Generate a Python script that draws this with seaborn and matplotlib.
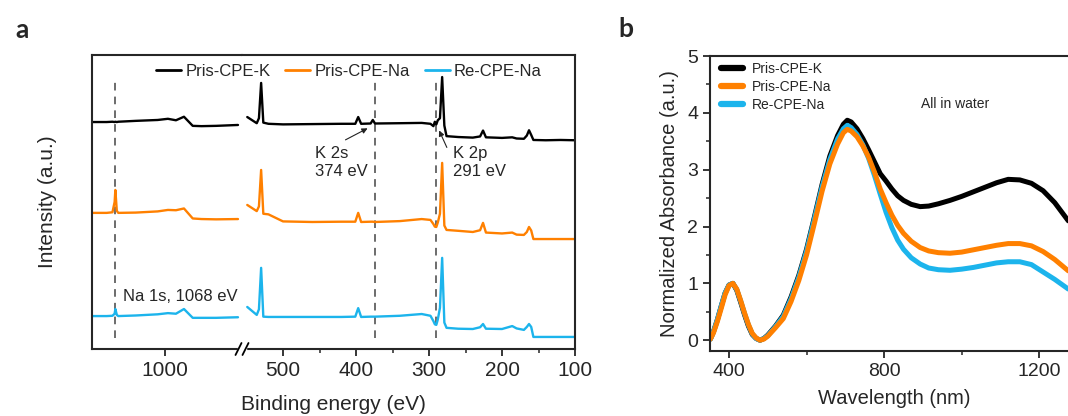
import numpy as np
import pandas as pd
import matplotlib.pyplot as plt
import seaborn as sns
from matplotlib.lines import Line2D
from matplotlib.patches import Rectangle

# ------------------------------------------
# Style
# ------------------------------------------
sns.set_style("ticks")
plt.rcParams["font.family"] = ["Liberation Sans", "DejaVu Sans"]

samples = ["Pris-CPE-K", "Pris-CPE-Na", "Re-CPE-Na"]
colors = ["#000000", "#FF8000", "#1CB4EC"]

# ------------------------------------------
# (a) XPS survey, offset traces (a.u.)
# ------------------------------------------
# high binding energy window
xps_hi_energy = [1100, 1080, 1072, 1069, 1068, 1066, 1064, 1040, 1010, 996, 985, 974, 962, 950, 930, 900]
xps_hi_k = [77.2, 77.2, 77.3, 77.2, 77.3, 77.2, 77.3, 77.6, 77.9, 78.3, 77.8, 79.0, 75.9, 75.8, 75.9, 76.2]
xps_hi_na = [46.3, 46.3, 46.5, 50.0, 54.1, 47.0, 46.3, 46.4, 46.8, 47.3, 47.2, 47.8, 44.4, 44.2, 44.1, 44.2]
xps_hi_re = [11.2, 11.2, 11.3, 12.0, 13.6, 11.6, 11.2, 11.4, 11.8, 12.2, 12.0, 13.6, 10.6, 10.6, 10.6, 10.8]

# low binding energy window
xps_lo_energy = [549, 536, 533, 530, 527, 520, 500, 460, 420, 401, 397, 393, 380, 377, 374, 340, 310,
                 298, 294, 292, 290, 288, 285, 282, 279, 276, 260, 240, 230, 226, 222, 200, 186, 180,
                 170, 166, 163, 160, 157, 140, 120, 100]
xps_lo_k = [78.9, 76.8, 78.5, 90.5, 77.0, 76.6, 76.4, 76.5, 76.6, 76.6, 78.9, 76.6, 76.7, 77.9, 76.7, 76.8, 76.9,
            76.6, 75.8, 77.3, 76.4, 77.8, 78.5, 92.5, 76.0, 72.4, 72.1, 71.9, 72.3, 74.3, 72.0, 71.8, 72.0, 71.6,
            71.5, 72.6, 74.4, 72.8, 71.1, 71.0, 71.1, 71.0]
xps_lo_na = [49.0, 46.9, 48.5, 60.9, 46.0, 45.8, 43.4, 43.2, 43.3, 43.3, 46.3, 43.2, 43.3, 43.3, 43.2, 43.5, 44.2,
             43.9, 42.5, 41.6, 41.5, 43.0, 46.0, 63.3, 42.0, 40.5, 40.2, 39.8, 40.4, 42.9, 39.6, 39.3, 39.6, 38.9,
             38.8, 39.8, 41.5, 40.3, 37.4, 37.4, 37.4, 37.4]
xps_lo_re = [14.3, 11.6, 13.5, 27.6, 11.0, 10.9, 10.9, 10.9, 10.9, 11.0, 13.9, 10.9, 11.0, 11.0, 11.0, 11.3, 11.9,
             11.3, 9.5, 8.4, 8.2, 10.0, 14.0, 31.0, 9.0, 7.2, 6.9, 6.8, 7.4, 8.5, 6.9, 6.8, 7.8, 7.0,
             6.5, 7.5, 8.5, 7.5, 4.1, 4.1, 4.1, 4.1]

marker_lines = [1068, 374, 291]

# ------------------------------------------
# (b) UV-vis-NIR absorbance
# ------------------------------------------
wavelength = [352, 360, 370, 380, 390, 400, 410, 420, 430, 440, 450, 460, 470, 480, 490, 500, 520, 540,
              560, 580, 600, 620, 640, 660, 680, 695, 705, 715, 730, 745, 760, 775, 790, 805, 820, 835,
              850, 870, 893, 915, 940, 970, 1000, 1030, 1060, 1090, 1120, 1150, 1180, 1210, 1240, 1275]
abs_k = [0.02, 0.15, 0.36, 0.60, 0.83, 0.97, 1.00, 0.88, 0.67, 0.45, 0.25, 0.10, 0.03, 0.00, 0.03, 0.09, 0.25, 0.44,
         0.76, 1.14, 1.60, 2.16, 2.74, 3.24, 3.60, 3.80, 3.87, 3.84, 3.72, 3.55, 3.35, 3.14, 2.93, 2.80, 2.66, 2.54,
         2.46, 2.39, 2.35, 2.36, 2.40, 2.46, 2.53, 2.61, 2.69, 2.77, 2.83, 2.82, 2.76, 2.63, 2.42, 2.10]
abs_na = [0.02, 0.13, 0.33, 0.56, 0.80, 0.96, 1.00, 0.90, 0.70, 0.48, 0.28, 0.12, 0.04, 0.00, 0.02, 0.07, 0.22, 0.38,
          0.68, 1.05, 1.50, 2.05, 2.62, 3.10, 3.45, 3.65, 3.71, 3.68, 3.58, 3.42, 3.22, 2.96, 2.66, 2.42, 2.20, 2.02,
          1.88, 1.74, 1.63, 1.57, 1.54, 1.53, 1.55, 1.59, 1.63, 1.67, 1.70, 1.70, 1.66, 1.56, 1.42, 1.22]
abs_re = [0.02, 0.15, 0.36, 0.60, 0.83, 0.97, 1.00, 0.89, 0.69, 0.47, 0.27, 0.11, 0.03, 0.00, 0.03, 0.08, 0.24, 0.42,
          0.73, 1.11, 1.57, 2.13, 2.70, 3.18, 3.54, 3.72, 3.78, 3.74, 3.62, 3.44, 3.20, 2.90, 2.57, 2.25, 1.98, 1.76,
          1.60, 1.45, 1.34, 1.27, 1.24, 1.23, 1.25, 1.28, 1.32, 1.36, 1.38, 1.38, 1.33, 1.20, 1.07, 0.90]


def long_df(x, series, xname, yname):
    frames = []
    for name, vals in zip(samples, series):
        frames.append(pd.DataFrame({xname: x, yname: vals, "sample": name}))
    return pd.concat(frames, ignore_index=True)


xps_hi = long_df(xps_hi_energy, [xps_hi_k, xps_hi_na, xps_hi_re], "energy", "intensity")
xps_lo = long_df(xps_lo_energy, [xps_lo_k, xps_lo_na, xps_lo_re], "energy", "intensity")
uv = long_df(wavelength, [abs_k, abs_na, abs_re], "wavelength", "absorbance")
pal = dict(zip(samples, colors))

# ------------------------------------------
# Figure layout (pixel boxes)
# ------------------------------------------
W, H = 1068, 416
fig = plt.figure(figsize=(W / 100, H / 100), dpi=100)


def box(l, t, r, b):
    return [l / W, 1 - b / H, (r - l) / W, (b - t) / H]


ax_hi = fig.add_axes(box(92, 55, 242, 349))
ax_lo = fig.add_axes(box(242, 55, 575, 349))
ax_b = fig.add_axes(box(710, 56, 1078, 351))

# ------------------------------------------
# Panel a
# ------------------------------------------
for ax, d in [(ax_hi, xps_hi), (ax_lo, xps_lo)]:
    sns.lineplot(data=d, x="energy", y="intensity", hue="sample", palette=pal,
                 estimator=None, sort=False, legend=False, lw=1.7, ax=ax)
    ax.set_ylim(0, 100)
    ax.set_xlabel("")
    ax.set_ylabel("")
    for s in ax.spines.values():
        s.set_linewidth(1.5)
    ax.tick_params(axis="x", which="major", length=5, width=1.3, labelsize=15, pad=4)
    ax.tick_params(axis="x", which="minor", length=3, width=1.1)

ax_hi.set_xlim(1100, 894.5)
ax_lo.set_xlim(556.2, 100)
ax_hi.set_xticks([1000])
ax_lo.set_xticks([500, 400, 300, 200, 100])
ax_lo.set_xticks([450, 350, 250, 150], minor=True)
ax_hi.set_yticks([])
ax_lo.set_yticks([])
ax_hi.spines["right"].set_visible(False)
ax_lo.spines["left"].set_visible(False)

ax_hi.set_ylabel("Intensity (a.u.)", fontsize=15)
ax_hi.yaxis.set_label_coords((57 - 92) / 150, 0.5)
fig.text(333 / W, 1 - 405 / H, "Binding energy (eV)", fontsize=15, ha="center", va="center")

# dashed marker lines
dash_kw = dict(color="#444444", lw=1.1, ls=(0, (5, 4)), zorder=0)
ax_hi.plot([marker_lines[0]] * 2, [3.7, 90.8], **dash_kw)
ax_lo.plot([marker_lines[1]] * 2, [3.7, 90.8], **dash_kw)
ax_lo.plot([marker_lines[2]] * 2, [3.7, 91.5], **dash_kw)

# annotations
ax_hi.text(1057.5, 17.7, "Na 1s, 1068 eV", fontsize=12, va="center", ha="left")
ax_lo.text(456, 63.3, "K 2s\n374 eV", fontsize=12, va="center", ha="left", linespacing=1.25)
ax_lo.text(267, 63.3, "K 2p\n291 eV", fontsize=12, va="center", ha="left", linespacing=1.25)
arrow_kw = dict(arrowstyle="-|>", color="#222222", lw=0.8, mutation_scale=8)
ax_lo.annotate("", xy=(380.8, 75.5), xytext=(417.8, 70.7), arrowprops=arrow_kw)
ax_lo.annotate("", xy=(287.7, 75.2), xytext=(274, 67.7), arrowprops=arrow_kw)

# axis break marks
fig.add_artist(Rectangle((238 / W, 1 - 352 / H), 8 / W, 6 / H, transform=fig.transFigure,
                         color="white", zorder=20, clip_on=False))
for xc in [238.5, 245.5]:
    fig.add_artist(Line2D([(xc - 3) / W, (xc + 3) / W], [1 - 355 / H, 1 - 343 / H],
                          transform=fig.transFigure, color="black", lw=1.3, zorder=21))

handles_a = [Line2D([], [], color=c, lw=2) for c in colors]
fig.legend(handles_a, samples, loc="center", bbox_to_anchor=(349 / W, 1 - 71 / H), ncol=3,
           frameon=False, fontsize=12, handlelength=1.5, handletextpad=0.25, columnspacing=0.9,
           borderpad=0, borderaxespad=0)

# ------------------------------------------
# Panel b  (orange drawn on top, as in the original)
# ------------------------------------------
sns.lineplot(data=uv, x="wavelength", y="absorbance", hue="sample", palette=pal,
             hue_order=["Pris-CPE-K", "Re-CPE-Na", "Pris-CPE-Na"],
             estimator=None, sort=False, legend=False, lw=3.6, ax=ax_b)
ax_b.set_xlim(351, 1300)
ax_b.set_ylim(-0.19, 5)
ax_b.set_xticks([400, 800, 1200])
ax_b.set_xticks([600, 1000], minor=True)
ax_b.set_yticks([0, 1, 2, 3, 4, 5])
ax_b.set_yticks(np.arange(0.5, 5, 1), minor=True)
for s in ax_b.spines.values():
    s.set_linewidth(1.5)
ax_b.tick_params(which="major", length=5, width=1.3, labelsize=14)
ax_b.tick_params(which="minor", length=3, width=1.1)
ax_b.set_xlabel("Wavelength (nm)", fontsize=14.5)
ax_b.set_ylabel("Normalized Absorbance (a.u.)", fontsize=14.5)
ax_b.xaxis.set_label_coords((894 - 710) / 368, (351 - 389) / 295)
ax_b.yaxis.set_label_coords((679 - 710) / 368, 0.5)

handles_b = [Line2D([], [], color=c, lw=4.5) for c in colors]
ax_b.legend(handles_b, samples, loc="upper left", bbox_to_anchor=((721 - 710) / 368, (351 - 62) / 295),
            frameon=False, fontsize=10, handlelength=1.6, handletextpad=0.6, labelspacing=0.3,
            borderpad=0, borderaxespad=0)
ax_b.text(895, 4.15, "All in water", fontsize=10, va="center", ha="left")

# panel letters
fig.text(22 / W, 1 - 30 / H, "a", fontsize=19, fontweight="bold", ha="center", va="center", family="Lato")
fig.text(626 / W, 1 - 29 / H, "b", fontsize=19, fontweight="bold", ha="center", va="center", family="Lato")

fig.savefig("out.png", dpi=100)
